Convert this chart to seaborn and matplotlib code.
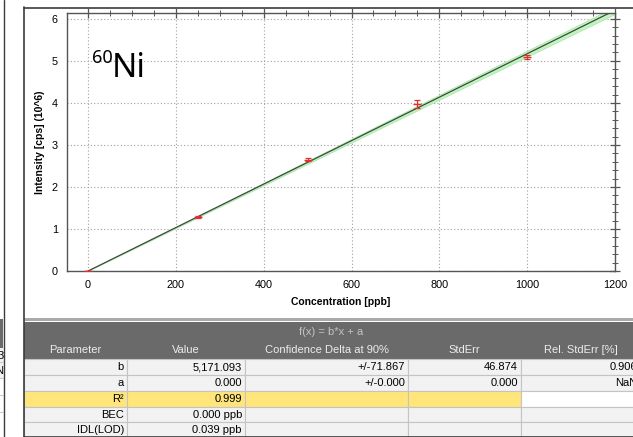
import numpy as np
import pandas as pd
import matplotlib
matplotlib.use("Agg")
import matplotlib.pyplot as plt
from matplotlib.patches import Rectangle
from matplotlib.ticker import MultipleLocator
import seaborn as sns

# calibration standards (concentration in ppb, intensity in 10^6 cps)
conc = [0, 250, 500, 750, 1000]
intensity = [0.0, 1.29, 2.65, 3.97, 5.09]
intensity_err = [0.0, 0.03, 0.04, 0.10, 0.04]

# fit parameters
slope = 5171.093
slope_delta = 71.867

# table contents
table_title = "f(x) = b*x + a"
col_headers = ["Parameter", "Value", "Confidence Delta at 90%", "StdErr", "Rel. StdErr [%]"]
row_names = ["b", "a", "R²", "BEC", "IDL(LOD)"]
row_values = ["5,171.093", "0.000", "0.999", "0.000 ppb", "0.039 ppb"]
row_conf = ["+/-71.867", "+/-0.000", "", "", ""]
row_stderr = ["46.874", "0.000", "", "", ""]
row_rel = ["0.906", "NaN", "", "", ""]

sns.set_style("white")
plt.rcParams["font.family"] = ["Liberation Sans", "DejaVu Sans"]
plt.rcParams["text.color"] = "black"

W, H = 633, 437
fig = plt.figure(figsize=(W / 100, H / 100), dpi=100)
fig.patch.set_facecolor("white")

# overlay axes in pixel units for frame + table
ov = fig.add_axes([0, 0, 1, 1], zorder=0)
ov.set_xlim(0, W)
ov.set_ylim(H, 0)
ov.axis("off")

frame = "#3c3c3c"
# neighbour panel remnants on the left
ov.plot([3.5, 3.5], [0, H], color=frame, lw=1)
ov.add_patch(Rectangle((0, 319), 3, 29, color="#6a6a6a", lw=0))
ov.add_patch(Rectangle((0, 348), 3, 30, color="#f2f2f2", lw=0))
ov.text(3.5, 356, "3", ha="right", va="center", fontsize=8)
ov.text(3.5, 371, "N", ha="right", va="center", fontsize=8)
for yy in [362, 378, 395, 412]:
    ov.plot([0, 3], [yy, yy], color="#c8c8c8", lw=0.8)

# main panel border
ov.plot([23.5, 23.5], [7, H], color=frame, lw=1.2)
ov.plot([23.5, W], [7.5, 7.5], color=frame, lw=1.2)

# table
cols = [24, 127, 245, 408, 521, 640]
rows = [359, 375, 391, 407, 422, 437]
ov.add_patch(Rectangle((24, 318), W, 3, color="#a9a9a9", lw=0))
ov.add_patch(Rectangle((24, 322), W, rows[0] - 322, color="#6a6a6a", lw=0))
ov.text(331, 332, table_title, ha="center", va="center",
        fontsize=8, color="#c4c4c4")
for i, h in enumerate(col_headers):
    ov.text((cols[i] + cols[i + 1]) / 2, 350, h, ha="center", va="center",
            fontsize=8, color="#ececec")

cells = list(zip(row_names, row_values, row_conf, row_stderr, row_rel))
for r, rowcells in enumerate(cells):
    y0, y1 = rows[r], rows[r + 1]
    for c, txt in enumerate(rowcells):
        if row_names[r] == "R²":
            fc = "#ffe57a" if c < 4 else "white"
        else:
            fc = "#f2f2f2"
        ov.add_patch(Rectangle((cols[c], y0), cols[c + 1] - cols[c], y1 - y0,
                               facecolor=fc, edgecolor="#c4c4c4", lw=0.8))
        if txt:
            ov.text(cols[c + 1] - 3, (y0 + y1) / 2 + 0.5, txt, ha="right",
                    va="center", fontsize=8, color="black")
ov.plot([24, W], [H - 0.5, H - 0.5], color=frame, lw=1.2)

# calibration plot
ax = fig.add_axes([67 / W, (H - 271) / H, (615 - 67) / W, (271 - 13) / H], zorder=1)
ax.set_facecolor("white")

x_fit = np.array([0, 1200])
fit_df = pd.DataFrame({"x": x_fit, "y": slope * x_fit / 1e6})
ax.fill_between(x_fit, (slope - slope_delta) * x_fit / 1e6,
                (slope + slope_delta) * x_fit / 1e6,
                color="#c2f4c2", lw=0.5, edgecolor="#9fe69f", zorder=2)
sns.lineplot(data=fit_df, x="x", y="y", ax=ax, color="#404840", lw=0.9, zorder=3)

pts = pd.DataFrame({"conc": conc, "intensity": intensity})
ax.errorbar(conc, intensity, yerr=intensity_err, fmt="none", ecolor="#e03030",
            elinewidth=0.9, capsize=2.5, capthick=0.9, zorder=4)
sns.scatterplot(data=pts, x="conc", y="intensity", ax=ax, marker="_", s=30,
                color="#e03030", linewidth=1.0, zorder=5)

ax.set_xlim(-48, 1200)
ax.set_ylim(0, 6.14)
ax.xaxis.set_major_locator(MultipleLocator(200))
ax.xaxis.set_minor_locator(MultipleLocator(50))
ax.yaxis.set_major_locator(MultipleLocator(1))
ax.yaxis.set_minor_locator(MultipleLocator(0.2))
ax.grid(True, which="major", color="#a0a0a0", ls=(0, (1, 2)), lw=0.8)
ax.set_axisbelow(True)

for s in ax.spines.values():
    s.set_color("#555555")
    s.set_linewidth(1)
ax.tick_params(which="both", direction="inout", top=True, right=True,
               colors="#555555", labelcolor="black", labelsize=7.8, pad=3)
ax.tick_params(which="major", length=7, width=0.9)
ax.tick_params(which="minor", length=4, width=0.7)

ax.set_xlabel("Concentration [ppb]", fontsize=7.5, fontweight="bold", labelpad=5,
              color="black")
ax.set_ylabel("Intensity [cps] (10^6)", fontsize=7.5, fontweight="bold", labelpad=5,
              color="black")

# isotope label
ax.annotate("60", xy=(92 / W, 1 - 63 / H), xycoords="figure fraction", color="black",
            fontsize=13, family=["Noto Sans", "DejaVu Sans"], va="baseline")
ax.annotate("Ni", xy=(112 / W, 1 - 77 / H), xycoords="figure fraction", color="black",
            fontsize=24, family=["Noto Sans", "DejaVu Sans"], va="baseline")

fig.savefig("out.png", dpi=100)
